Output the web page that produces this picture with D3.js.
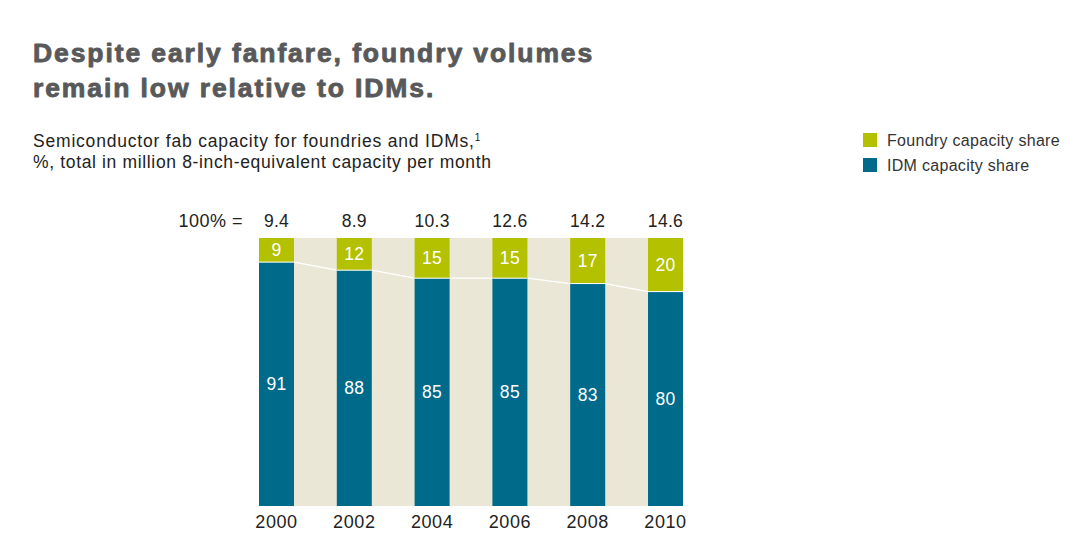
<!DOCTYPE html>
<html><head><meta charset="utf-8">
<script src="https://cdn.jsdelivr.net/npm/d3@7"></script>
<style>
body{margin:0;background:#fff;}
svg{display:block;font-family:"Liberation Sans",Arial,sans-serif;}
</style></head>
<body>
<svg id="c" width="1080" height="540"></svg>
<script>
const years = ["2000","2002","2004","2006","2008","2010"];
const totals = ["9.4","8.9","10.3","12.6","14.2","14.6"];
const foundryShare = [9,12,15,15,17,20];
const idmShare = [91,88,85,85,83,80];
const legendLabels = ["Foundry capacity share","IDM capacity share"];

const cGreen = "#b3c100", cBlue = "#006a8b", cBeige = "#ebe7d6";
const svg = d3.select("#c");

// Title
const title = svg.append("text").attr("fill","#58595b").attr("stroke","#58595b").attr("stroke-width",0.9)
  .attr("stroke-linejoin","round")
  .attr("font-weight","bold").attr("font-size",26.5).attr("letter-spacing",1.9);
title.append("tspan").attr("x",33).attr("y",62).text("Despite early fanfare, foundry volumes");
title.append("tspan").attr("x",33).attr("y",97).text("remain low relative to IDMs.");

// Subtitle
const sub = svg.append("text").attr("fill","#222").attr("font-size",17.5).attr("letter-spacing",0.8);
sub.append("tspan").attr("x",33).attr("y",147).text("Semiconductor fab capacity for foundries and IDMs,");
sub.append("tspan").attr("font-size",10).attr("dy",-6).text("1");
svg.append("text").attr("fill","#222").attr("font-size",17.5).attr("letter-spacing",0.65).attr("x",33).attr("y",168)
  .text("%, total in million 8-inch-equivalent capacity per month");

// Legend
const legColors = [cGreen, cBlue];
legendLabels.forEach((l,i)=>{
  svg.append("rect").attr("x",863).attr("y",133+i*25).attr("width",14).attr("height",14).attr("fill",legColors[i]);
  svg.append("text").attr("x",887).attr("y",146+i*25).attr("font-size",16).attr("letter-spacing",0.3)
    .attr("fill","#333").text(l);
});

// Scales
const x = d3.scaleBand().domain(years).range([259,683]).paddingInner(0.55).paddingOuter(0);
const y = d3.scaleLinear().domain([0,100]).range([506,238]);
const bw = x.bandwidth();

// background band
svg.append("rect").attr("x",x(years[0])).attr("y",y(100))
  .attr("width",x(years[years.length-1])+bw-x(years[0])).attr("height",y(0)-y(100)).attr("fill",cBeige);

// connector lines
const g = svg.append("g");
for(let i=0;i<years.length-1;i++){
  g.append("line").attr("x1",x(years[i])+bw).attr("x2",x(years[i+1]))
    .attr("y1",y(idmShare[i])).attr("y2",y(idmShare[i+1]))
    .attr("stroke","#fff").attr("stroke-width",1.2);
}

// bars
years.forEach((yr,i)=>{
  const bx = x(yr);
  g.append("rect").attr("x",bx).attr("y",y(idmShare[i])).attr("width",bw)
    .attr("height",y(0)-y(idmShare[i])).attr("fill",cBlue);
  g.append("rect").attr("x",bx).attr("y",y(100)).attr("width",bw)
    .attr("height",y(idmShare[i])-y(100)).attr("fill",cGreen);
  g.append("line").attr("x1",bx).attr("x2",bx+bw).attr("y1",y(idmShare[i])).attr("y2",y(idmShare[i]))
    .attr("stroke","#fff").attr("stroke-width",1);
  g.append("text").attr("x",bx+bw/2).attr("y",(y(100)+y(idmShare[i]))/2+6)
    .attr("text-anchor","middle").attr("fill","#fff").attr("font-size",17.5).attr("letter-spacing",0.3).text(foundryShare[i]);
  g.append("text").attr("x",bx+bw/2).attr("y",(y(0)+y(idmShare[i]))/2+6)
    .attr("text-anchor","middle").attr("fill","#fff").attr("font-size",17.5).attr("letter-spacing",0.3).text(idmShare[i]);
  g.append("text").attr("x",bx+bw/2).attr("y",227)
    .attr("text-anchor","middle").attr("fill","#222").attr("font-size",17.5).attr("letter-spacing",0.3).text(totals[i]);
});

svg.append("text").attr("x",243).attr("y",227).attr("text-anchor","end")
  .attr("fill","#222").attr("font-size",18).attr("letter-spacing",0.5).text("100% =");

// x axis
const xAxis = d3.axisBottom(x).tickSize(0).tickPadding(9);
const ax = svg.append("g").attr("transform","translate(0,506)").call(xAxis);
ax.select(".domain").remove();
ax.selectAll("text").attr("font-size",18).attr("fill","#222").attr("letter-spacing",0.6)
  .attr("font-family","Liberation Sans, Arial, sans-serif");
</script>
</body></html>
